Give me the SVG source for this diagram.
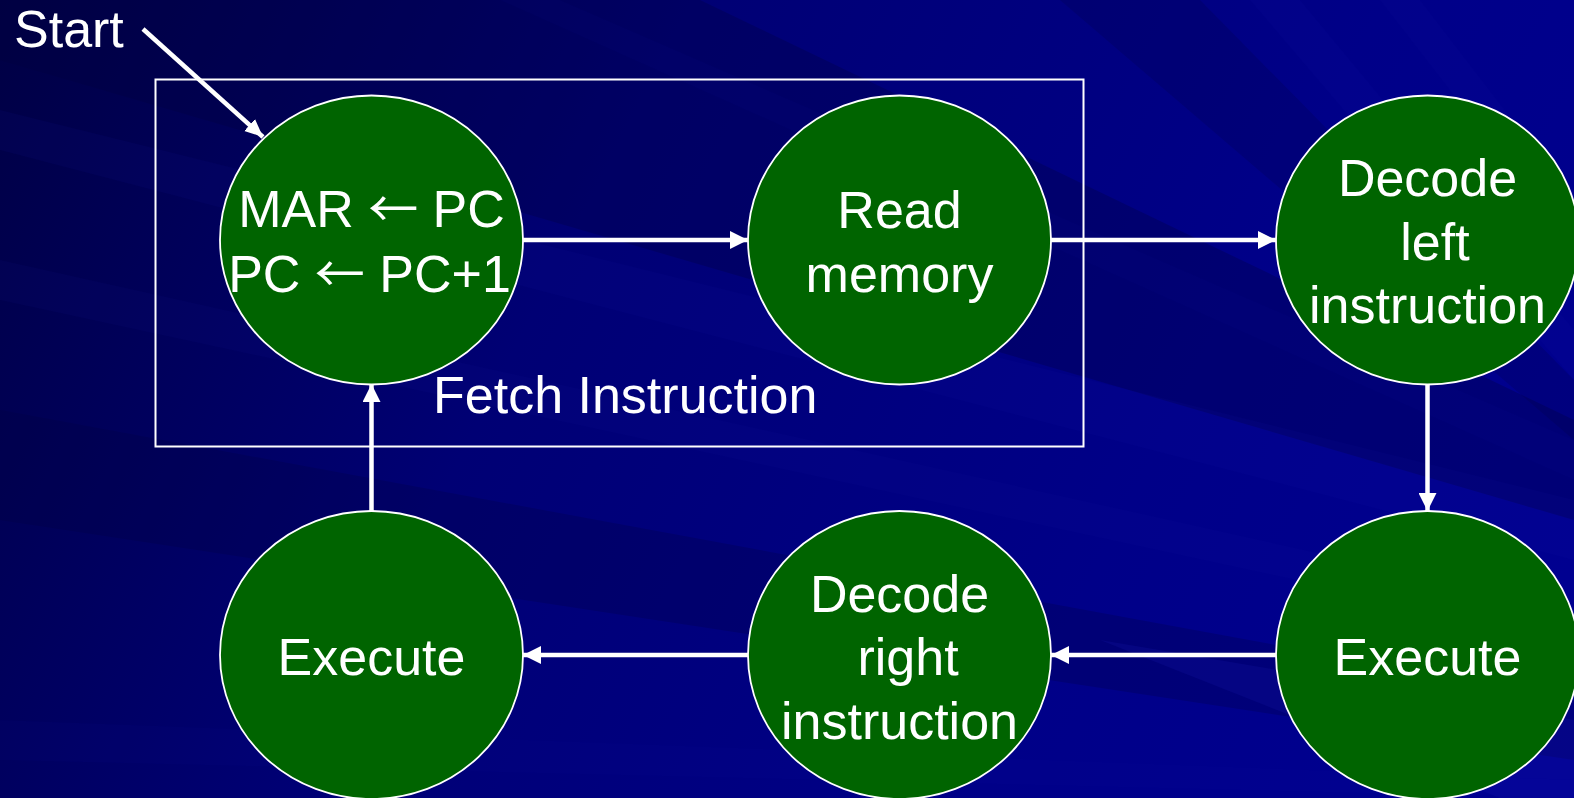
<svg xmlns="http://www.w3.org/2000/svg" width="1574" height="798" viewBox="0 0 1574 798">
  <defs>
    <linearGradient id="bg" x1="0" y1="0" x2="1574" y2="798" gradientUnits="userSpaceOnUse">
      <stop offset="0" stop-color="#000044"/>
      <stop offset="0.35" stop-color="#000074"/>
      <stop offset="0.7" stop-color="#000088"/>
      <stop offset="1" stop-color="#000092"/>
    </linearGradient>
    <marker id="head" markerUnits="userSpaceOnUse" markerWidth="18" markerHeight="18" refX="18" refY="9" orient="auto" viewBox="0 0 18 18">
      <path d="M0,0 L18,9 L0,18 z" fill="#ffffff"/>
    </marker>
    <marker id="headSmall" markerUnits="userSpaceOnUse" markerWidth="18" markerHeight="18" refX="18" refY="9" orient="auto" viewBox="0 0 18 18">
      <path d="M0,1 L18,9 L0,17 z" fill="#ffffff"/>
    </marker>
  </defs>
  <style>
    .node ellipse { fill: #006400; stroke: #ffffff; stroke-width: 1.8; }
    .label { font-family: "Liberation Sans", Arial, sans-serif; font-size: 52px; fill: #ffffff; }
    .mid { text-anchor: middle; }
    .arrow { font-family: "Noto Sans CJK SC", "DejaVu Sans", sans-serif; font-size: 50px; }
    .edge { stroke: #ffffff; stroke-width: 4.5; fill: none; marker-end: url(#head); }
    .streak-light { fill: #1818b0; }
    .streak-dark { fill: #000040; }
  </style>

  <!-- background with faint diagonal rays -->
  <rect x="0" y="0" width="1574" height="798" fill="url(#bg)"/>
  <g id="rays">
    <polygon class="streak-dark" opacity="0.3" points="0,0 700,0 1574,420 1574,520 0,60"/>
    <polygon class="streak-light" opacity="0.08" points="0,110 0,150 1574,560 1574,500"/>
    <polygon class="streak-dark" opacity="0.25" points="0,410 0,520 1574,760 1574,700"/>
    <polygon class="streak-light" opacity="0.07" points="0,260 0,300 1574,640 1574,610"/>
    <polygon class="streak-light" opacity="0.2" points="1100,640 1574,720 1574,798 1500,798"/>
    <polygon class="streak-light" opacity="0.06" points="0,720 0,760 1574,798 1574,780"/>
    <polygon class="streak-light" opacity="0.08" points="1250,0 1300,0 1574,330 1574,380"/>
    <polygon class="streak-light" opacity="0.07" points="1380,0 1420,0 1574,200 1574,250"/>
    <polygon class="streak-dark" opacity="0.2" points="1060,0 1200,0 1574,380 1574,440"/>
    <polygon class="streak-light" opacity="0.06" points="500,0 560,0 1574,440 1574,480"/>
  </g>

  <!-- fetch stage frame -->
  <g id="fetch-frame">
    <rect x="155.5" y="79.5" width="928" height="367" fill="none" stroke="#ffffff" stroke-width="2"/>
    <text class="label" x="433" y="413">Fetch Instruction</text>
  </g>

  <!-- start marker -->
  <g id="start">
    <text class="label" x="14" y="47">Start</text>
  </g>

  <!-- transitions -->
  <g id="connectors">
    <line class="edge" x1="143" y1="29" x2="263" y2="137" style="marker-end:url(#headSmall)"/>
    <line class="edge" x1="523" y1="240" x2="748" y2="240"/>
    <line class="edge" x1="1051" y1="240" x2="1276" y2="240"/>
    <line class="edge" x1="1427.5" y1="384" x2="1427.5" y2="511"/>
    <line class="edge" x1="1276" y1="655" x2="1051" y2="655"/>
    <line class="edge" x1="748" y1="655" x2="523" y2="655"/>
    <line class="edge" x1="371.5" y1="511" x2="371.5" y2="384"/>
  </g>

  <!-- states -->
  <g id="node-fetch" class="node">
    <ellipse cx="371.5" cy="240" rx="151.5" ry="144.5"/>
    <text class="label mid" x="371.5" y="227">MAR <tspan class="arrow">←</tspan> PC</text>
    <text class="label mid" x="369.5" y="292">PC <tspan class="arrow">←</tspan> PC+1</text>
  </g>
  <g id="node-read" class="node">
    <ellipse cx="899.5" cy="240" rx="151.5" ry="144.5"/>
    <text class="label mid" x="899.5" y="228">Read</text>
    <text class="label mid" x="899.5" y="292">memory</text>
  </g>
  <g id="node-decode-left" class="node">
    <ellipse cx="1427.5" cy="240" rx="151.5" ry="144.5"/>
    <text class="label mid" x="1427.5" y="196">Decode</text>
    <text class="label mid" x="1435" y="260">left</text>
    <text class="label mid" x="1427.5" y="323">instruction</text>
  </g>
  <g id="node-execute-left" class="node">
    <ellipse cx="1427.5" cy="655" rx="151.5" ry="144"/>
    <text class="label mid" x="1427.5" y="675">Execute</text>
  </g>
  <g id="node-decode-right" class="node">
    <ellipse cx="899.5" cy="655" rx="151.5" ry="144"/>
    <text class="label mid" x="899.5" y="612">Decode</text>
    <text class="label mid" x="908" y="675">right</text>
    <text class="label mid" x="899.5" y="739">instruction</text>
  </g>
  <g id="node-execute-right" class="node">
    <ellipse cx="371.5" cy="655" rx="151.5" ry="144"/>
    <text class="label mid" x="371.5" y="675">Execute</text>
  </g>
</svg>
